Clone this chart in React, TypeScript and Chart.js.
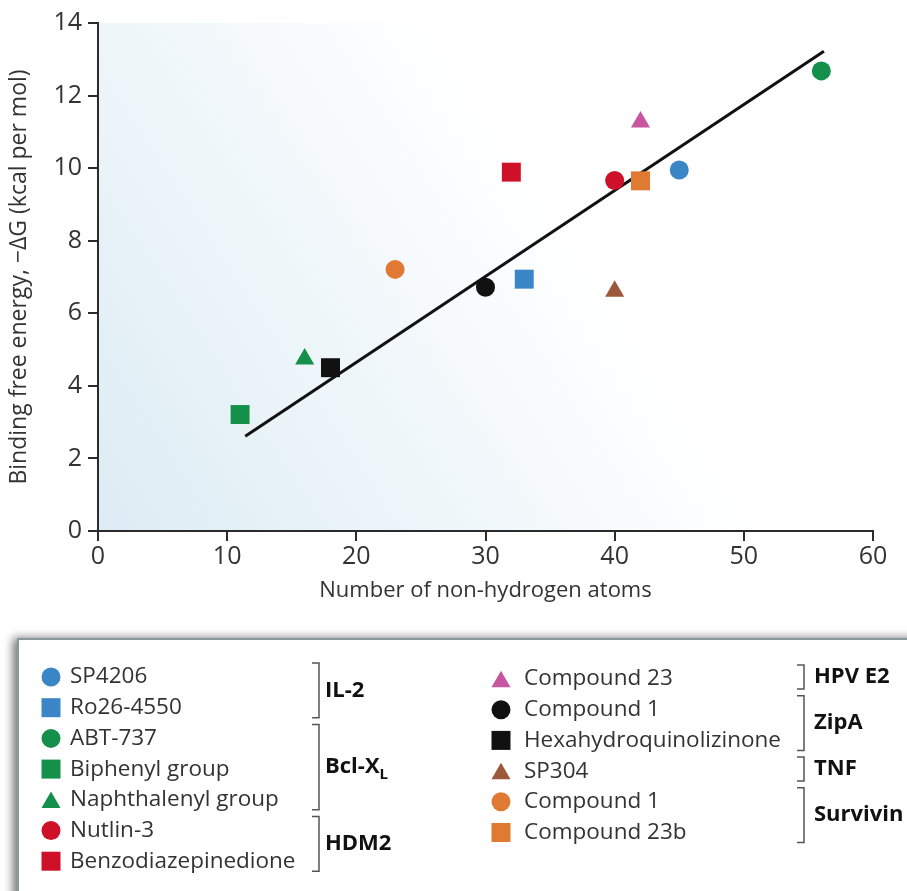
import { useEffect, useRef } from "react";
import { Chart, registerables } from "chart.js";

Chart.register(...registerables);

// ---- data ----
const compoundNames = [
  "SP4206",
  "Ro26-4550",
  "ABT-737",
  "Biphenyl group",
  "Naphthalenyl group",
  "Nutlin-3",
  "Benzodiazepinedione",
  "Compound 23",
  "Compound 1",
  "Hexahydroquinolizinone",
  "SP304",
  "Compound 1",
  "Compound 23b",
];
const atomCounts = [45, 33, 56, 11, 16, 40, 32, 42, 30, 18, 40, 23, 42];
const bindingEnergies = [9.95, 6.94, 12.68, 3.21, 4.74, 9.66, 9.89, 11.27, 6.72, 4.5, 6.61, 7.21, 9.65];
const markerColors = [
  "#3b86c6",
  "#3b86c6",
  "#14904b",
  "#14904b",
  "#14904b",
  "#cf1029",
  "#cf1029",
  "#c7559f",
  "#111111",
  "#111111",
  "#9b583b",
  "#e07a32",
  "#e07a32",
];
const markerShapes = [
  "circle",
  "rect",
  "circle",
  "rect",
  "triangle",
  "circle",
  "rect",
  "triangle",
  "circle",
  "rect",
  "triangle",
  "circle",
  "rect",
];
const targetGroups = ["IL-2", "Bcl-X|L", "HDM2", "HPV E2", "ZipA", "TNF", "Survivin"];
const groupMembers = [[0, 1], [2, 3, 4], [5, 6], [7], [8, 9], [10], [11, 12]];
const groupColumn = [0, 0, 0, 1, 1, 1, 1];
const fitLineX = [11.4, 56.2];
const fitLineY = [2.61, 13.22];
const xTickRange = [0, 60, 10];
const yTickRange = [0, 14, 2];

const xTitle = "Number of non-hydrogen atoms";
const yTitle = "Binding free energy, \u2212\u0394G (kcal per mol)";

// ---- styles ----
const FONT = '"Open Sans", "Noto Sans", sans-serif';
const TEXT = "#333333";
const AXIS = "#2b2b2b";
const chartRadius: Record<string, number> = { circle: 9.5, rect: 13.4, triangle: 11 };

function drawMarker(ctx: CanvasRenderingContext2D, shape: string, x: number, y: number, color: string) {
  ctx.save();
  ctx.fillStyle = color;
  ctx.beginPath();
  if (shape === "circle") {
    ctx.arc(x, y, 9.5, 0, Math.PI * 2);
  } else if (shape === "rect") {
    ctx.rect(x - 9.5, y - 9.5, 19, 19);
  } else {
    const r = 11;
    const cy = y + r * 0.25;
    ctx.moveTo(x, cy - r);
    ctx.lineTo(x + r * 0.866, cy + r * 0.5);
    ctx.lineTo(x - r * 0.866, cy + r * 0.5);
    ctx.closePath();
  }
  ctx.fill();
  ctx.restore();
}

const backgroundPlugin = {
  id: "bgGradient",
  beforeDraw(chart: any) {
    const { ctx, chartArea } = chart;
    const { left, right, top, bottom } = chartArea;
    const g = ctx.createLinearGradient(left, bottom, right, top);
    g.addColorStop(0, "#dcecf4");
    g.addColorStop(0.6, "#ffffff");
    g.addColorStop(1, "#ffffff");
    ctx.save();
    ctx.fillStyle = g;
    ctx.fillRect(left, top, right - left, bottom - top);
    ctx.restore();
  },
};

const legendPlugin = {
  id: "groupLegend",
  afterDraw(chart: any) {
    const ctx: CanvasRenderingContext2D = chart.ctx;
    const W = chart.width;
    const H = chart.height;
    ctx.save();
    // box with shadow
    const bx = 18;
    const by = 639;
    ctx.shadowColor = "rgba(0,0,0,0.55)";
    ctx.shadowBlur = 9;
    ctx.shadowOffsetX = -5;
    ctx.shadowOffsetY = -1;
    ctx.fillStyle = "#ffffff";
    ctx.fillRect(bx, by, W + 20 - bx, H + 20 - by);
    ctx.shadowColor = "transparent";
    ctx.strokeStyle = "#8a989e";
    ctx.lineWidth = 2;
    ctx.strokeRect(bx, by, W + 20 - bx, H + 20 - by);

    const cols = [
      { marker: 51, text: 70, bracket: 319, label: 325, y0: 677 },
      { marker: 501, text: 524, bracket: 804, label: 814, y0: 679 },
    ];
    const step = 30.7;
    const rowIdx = [0, 0];
    targetGroups.forEach((gname, gi) => {
      const col = cols[groupColumn[gi]];
      const members = groupMembers[gi];
      const ys: number[] = [];
      members.forEach((m) => {
        const y = col.y0 + rowIdx[groupColumn[gi]] * step;
        rowIdx[groupColumn[gi]]++;
        ys.push(y);
        drawMarker(ctx, markerShapes[m], col.marker, y, markerColors[m]);
        ctx.fillStyle = TEXT;
        ctx.font = `22.5px ${FONT}`;
        ctx.textAlign = "left";
        ctx.textBaseline = "middle";
        ctx.fillText(compoundNames[m], col.text, y);
      });
      const t = ys[0] - 14;
      const b = ys[ys.length - 1] + 10;
      ctx.strokeStyle = "#555555";
      ctx.lineWidth = 1.5;
      ctx.beginPath();
      ctx.moveTo(col.bracket - 7, t);
      ctx.lineTo(col.bracket, t);
      ctx.lineTo(col.bracket, b);
      ctx.lineTo(col.bracket - 7, b);
      ctx.stroke();
      const mid = (t + b) / 2;
      ctx.fillStyle = "#111111";
      ctx.textBaseline = "middle";
      ctx.font = `bold 22px ${FONT}`;
      const parts = gname.split("|");
      ctx.fillText(parts[0], col.label, mid);
      if (parts[1]) {
        const w = ctx.measureText(parts[0]).width;
        ctx.font = `bold 15px ${FONT}`;
        ctx.fillText(parts[1], col.label + w, mid + 8);
      }
    });
    ctx.restore();
  },
};

export default function App() {
  const ref = useRef<HTMLCanvasElement | null>(null);
  useEffect(() => {
    if (!ref.current) return;
    const pointSets = compoundNames.map((name, i) => ({
      type: "scatter" as const,
      label: name,
      data: [{ x: atomCounts[i], y: bindingEnergies[i] }],
      pointStyle: markerShapes[i],
      pointRadius: chartRadius[markerShapes[i]],
      pointBackgroundColor: markerColors[i],
      pointBorderColor: markerColors[i],
      pointBorderWidth: 0,
      order: 0,
    }));
    const fitSet = {
      type: "line" as const,
      label: "fit",
      data: fitLineX.map((x, i) => ({ x, y: fitLineY[i] })),
      borderColor: "#111111",
      borderWidth: 3,
      pointRadius: 0,
      showLine: true,
      fill: false,
      order: 1,
    };
    const chart = new Chart(ref.current, {
      type: "scatter",
      data: { datasets: [...pointSets, fitSet] as any },
      plugins: [backgroundPlugin, legendPlugin],
      options: {
        animation: false,
        responsive: false,
        devicePixelRatio: 1,
        layout: { padding: { top: 23, left: 0, right: 34, bottom: 280 } },
        plugins: { legend: { display: false }, tooltip: { enabled: false } },
        scales: {
          x: {
            type: "linear",
            min: xTickRange[0],
            max: xTickRange[1],
            ticks: {
              stepSize: xTickRange[2],
              color: TEXT,
              font: { family: FONT, size: 25 },
              padding: 1,
            },
            grid: { drawOnChartArea: false, drawTicks: true, tickLength: 10, color: AXIS, lineWidth: 2 },
            border: { display: true, color: AXIS, width: 2 },
            title: {
              display: true,
              text: xTitle,
              color: TEXT,
              font: { family: FONT, size: 22 },
              padding: { top: 0, bottom: 7 },
            },
            afterFit: (s: any) => {
              s.height = 80;
            },
          },
          y: {
            type: "linear",
            min: yTickRange[0],
            max: yTickRange[1],
            ticks: {
              stepSize: yTickRange[2],
              color: TEXT,
              font: { family: FONT, size: 25 },
              padding: 6,
            },
            grid: { drawOnChartArea: false, drawTicks: true, tickLength: 10, color: AXIS, lineWidth: 2 },
            border: { display: true, color: AXIS, width: 2 },
            title: {
              display: true,
              text: yTitle,
              color: TEXT,
              font: { family: FONT, size: 23 },
              padding: { top: 6, bottom: 0 },
            },
            afterFit: (s: any) => {
              s.width = 98;
            },
          },
        },
      } as any,
    });
    return () => chart.destroy();
  }, []);
  return (
    <div style={{ position: "absolute", left: 0, top: 0, width: 907, height: 891, background: "#fff" }}>
      <canvas ref={ref} width={907} height={891} style={{ display: "block" }} />
    </div>
  );
}
